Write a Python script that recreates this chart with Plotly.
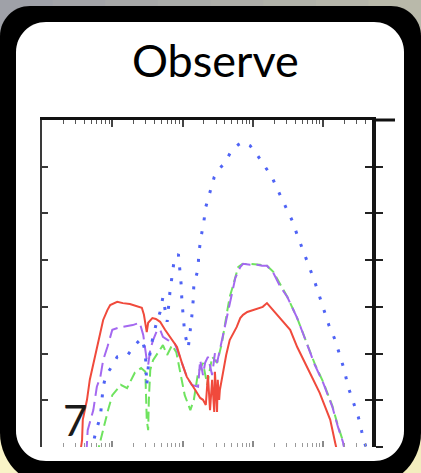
import numpy as np
import plotly.graph_objects as go

# ---------------- data (x in decades of log10, y in axis units 0..7) ----------------
red_x = [0.54, 0.57, 0.58, 0.64, 0.68, 0.74, 0.78, 0.83, 0.87, 0.93, 0.97, 1.07, 1.15, 1.25, 1.35, 1.42,
         1.45, 1.47, 1.49, 1.51, 1.57, 1.62, 1.68, 1.75, 1.82, 1.92, 1.99, 2.06, 2.18, 2.25, 2.29, 2.33,
         2.36, 2.39, 2.42, 2.45, 2.46, 2.49, 2.50, 2.52, 2.53, 2.58, 2.62, 2.67, 2.73, 2.77, 2.82, 2.86,
         2.92, 3.00, 3.07, 3.14, 3.20, 3.29, 3.39, 3.53, 3.63, 3.74, 3.81, 3.95, 4.10, 4.17, 4.21]
red_y = [-0.17, 0.15, 0.58, 1.01, 1.44, 1.86, 2.14, 2.51, 2.72, 2.93, 3.04, 3.11, 3.08, 3.06, 3.02, 2.98,
         2.83, 2.61, 2.46, 2.66, 2.76, 2.74, 2.68, 2.51, 2.36, 2.14, 1.80, 1.50, 1.22, 1.05, 1.01, 0.90,
         1.54, 0.79, 1.44, 0.75, 1.61, 0.75, 1.44, 1.01, 1.22, 1.65, 1.97, 2.29, 2.46, 2.57, 2.76, 2.83,
         2.89, 2.93, 2.98, 3.00, 3.08, 2.93, 2.76, 2.51, 2.14, 1.82, 1.59, 1.16, 0.58, 0.09, -0.17]

purple_x = [0.63, 0.65, 0.73, 0.78, 0.83, 0.87, 0.93, 1.00, 1.08, 1.15, 1.29, 1.39, 1.44, 1.47, 1.49, 1.51,
            1.54, 1.58, 1.64, 1.68, 1.72, 1.79, 1.89, 1.96, 2.06, 2.13, 2.22, 2.25, 2.29, 2.32, 2.36, 2.42,
            2.46, 2.49, 2.56, 2.63, 2.67, 2.72, 2.75, 2.82, 2.86, 2.96, 3.06, 3.13, 3.20, 3.29, 3.39, 3.49,
            3.63, 3.71, 3.88, 4.00, 4.13, 4.21, 4.28, 4.32]
purple_y = [-0.17, 0.36, 0.79, 1.29, 1.50, 1.86, 2.14, 2.51, 2.55, 2.57, 2.61, 2.66, 2.40, 2.08, 1.86, 1.76,
            2.08, 2.29, 2.51, 2.51, 2.36, 2.29, 2.21, 1.93, 1.50, 1.33, 1.29, 1.86, 1.54, 1.80, 1.93, 1.54,
            2.01, 1.80, 2.29, 2.76, 3.00, 3.36, 3.62, 3.85, 3.92, 3.90, 3.90, 3.88, 3.88, 3.73, 3.43, 3.21,
            2.76, 2.44, 1.76, 1.37, 0.86, 0.43, 0.11, -0.17]

green_x = [0.78, 0.83, 0.88, 0.94, 1.00, 1.05, 1.12, 1.21, 1.32, 1.41, 1.47, 1.49, 1.51, 1.52, 1.54, 1.58,
           1.65, 1.72, 1.78, 1.85, 1.91, 1.96, 2.03, 2.11, 2.16, 2.22, 2.29, 2.35, 2.42, 2.49, 2.56, 2.63,
           2.67, 2.72, 2.79, 2.85, 2.96, 3.10, 3.20, 3.29, 3.39, 3.49, 3.63, 3.71, 3.88, 4.00, 4.13, 4.21,
           4.28, 4.32]
green_y = [-0.17, 0.15, 0.47, 0.79, 1.11, 1.20, 1.33, 1.26, 1.59, 1.69, 1.61, 0.58, 0.36, 1.01, 1.65, 1.86,
           2.03, 2.18, 1.97, 2.18, 2.03, 1.61, 1.11, 0.79, 1.01, 1.59, 1.80, 1.33, 1.93, 1.80, 2.23, 2.87,
           3.21, 3.47, 3.85, 3.92, 3.92, 3.90, 3.88, 3.75, 3.47, 3.21, 2.76, 2.44, 1.78, 1.39, 0.88, 0.45,
           0.13, -0.17]

blue_x = [0.70, 0.77, 0.83, 0.85, 0.87, 0.91, 0.97, 1.07, 1.21, 1.32, 1.42, 1.47, 1.49, 1.52, 1.57, 1.62,
          1.68, 1.72, 1.78, 1.82, 1.85, 1.88, 1.94, 1.96, 1.98, 1.99, 2.01, 2.03, 2.08, 2.11, 2.13, 2.15,
          2.16, 2.22, 2.23, 2.26, 2.30, 2.33, 2.39, 2.45, 2.53, 2.60, 2.70, 2.79, 2.86, 2.96, 3.04, 3.16,
          3.27, 3.36, 3.47, 3.56, 3.63, 3.71, 3.80, 3.87, 3.94, 4.01, 4.08, 4.17, 4.23, 4.30, 4.35, 4.42,
          4.50, 4.55, 4.60, 4.62]
blue_y = [-0.11, 0.36, 0.64, 1.01, 1.29, 1.54, 1.67, 1.93, 1.95, 2.18, 2.33, 2.03, 1.33, 1.86, 2.29, 2.61,
          2.89, 3.21, 2.68, 3.32, 3.66, 4.00, 4.13, 3.81, 3.47, 3.13, 2.78, 2.44, 2.12, 2.46, 2.78, 3.13,
          3.47, 3.81, 4.13, 4.48, 4.80, 5.14, 5.46, 5.78, 5.97, 6.08, 6.36, 6.47, 6.53, 6.45, 6.30, 6.02,
          5.78, 5.48, 5.14, 4.84, 4.54, 4.22, 3.90, 3.58, 3.26, 2.93, 2.61, 2.29, 1.97, 1.65, 1.31, 0.99,
          0.64, 0.32, 0.04, -0.17]

x_range = [0, 4.694]
y_range = [0, 7]
y_ticks = [0, 1, 2, 3, 4, 5, 6, 7]
decades = [0, 1, 2, 3, 4]

W, H = 421, 473
def PX(x): return x / W
def PY(y): return 1 - y / H

major = decades
minor = [d + np.log10(k) for d in decades for k in range(2, 10) if d + np.log10(k) < x_range[1]]

fig = go.Figure()
fig.add_trace(go.Scatter(x=green_x, y=green_y, mode="lines",
                         line=dict(color="#6fe35f", width=2, dash="10px,5px"), hoverinfo="skip"))
fig.add_trace(go.Scatter(x=purple_x, y=purple_y, mode="lines",
                         line=dict(color="#a468f0", width=2, dash="14px,6px"), hoverinfo="skip"))
fig.add_trace(go.Scatter(x=blue_x, y=blue_y, mode="lines",
                         line=dict(color="#4f63f5", width=3, dash="3px,11px"), hoverinfo="skip"))
fig.add_trace(go.Scatter(x=red_x, y=red_y, mode="lines",
                         line=dict(color="#f04a3c", width=2), hoverinfo="skip"))
# helper (empty) traces so overlay axes render
fig.add_trace(go.Scatter(x=[None], y=[None], xaxis="x2", yaxis="y2", hoverinfo="skip"))
fig.add_trace(go.Scatter(x=[None], y=[None], xaxis="x", yaxis="y3", hoverinfo="skip"))

xdom = [PX(42), PX(372)]
ydom = [PY(447), PY(120)]

fig.update_layout(
    width=W, height=H, margin=dict(l=0, r=0, t=0, b=0),
    showlegend=False,
    paper_bgcolor="#d8d4bc", plot_bgcolor="rgba(0,0,0,0)",
    xaxis=dict(domain=xdom, range=x_range, showgrid=False, zeroline=False, showline=False,
               showticklabels=False, tickmode="array", tickvals=major, ticks="inside",
               ticklen=6, tickwidth=1.5, tickcolor="#8a8a8a",
               minor=dict(tickmode="array", tickvals=minor, ticks="inside", ticklen=4,
                          tickwidth=1.2, tickcolor="#9a9a9a"),
               anchor="y"),
    xaxis2=dict(domain=xdom, range=x_range, matches="x", overlaying="x", side="top", anchor="y2",
                showgrid=False, zeroline=False, showline=True, linecolor="#111", linewidth=3,
                showticklabels=False, tickmode="array", tickvals=major, ticks="inside",
                ticklen=7, tickwidth=1.5, tickcolor="#444",
                minor=dict(tickmode="array", tickvals=minor, ticks="inside", ticklen=4,
                           tickwidth=1.2, tickcolor="#555")),
    yaxis=dict(domain=ydom, range=y_range, showgrid=False, zeroline=False, showline=True,
               linecolor="#3a3a3a", linewidth=2, showticklabels=False, tickmode="array",
               tickvals=y_ticks, ticks="inside", ticklen=6, tickwidth=1.5, tickcolor="#3a3a3a",
               anchor="x"),
    yaxis2=dict(domain=ydom, range=y_range, matches="y", overlaying="y", side="right", anchor="x2",
                showgrid=False, zeroline=False, showline=True, linecolor="#151515", linewidth=3.5,
                showticklabels=False, tickmode="array", tickvals=y_ticks, ticks="outside",
                ticklen=7, tickwidth=2, tickcolor="#222"),
    yaxis3=dict(domain=ydom, range=y_range, matches="y", overlaying="y", side="right", anchor="x",
                showgrid=False, zeroline=False, showline=False,
                showticklabels=False, tickmode="array", tickvals=y_ticks, ticks="inside",
                ticklen=7, tickwidth=2, tickcolor="#222"),
)

# ---------------- decorative card ----------------
def hexrgb(h):
    h = h.lstrip("#"); return np.array([int(h[i:i + 2], 16) for i in (0, 2, 4)], float)

TL, TR, BL, BR = hexrgb("#9b9da7"), hexrgb("#b9b9aa"), hexrgb("#fdf8c9"), hexrgb("#f5efbf")
shapes = []
nx, ny = 8, 16
for i in range(nx):
    for j in range(ny):
        fx, fy = (i + 0.5) / nx, (j + 0.5) / ny
        c = (TL * (1 - fx) + TR * fx) * (1 - fy) + (BL * (1 - fx) + BR * fx) * fy
        shapes.append(dict(type="rect", xref="paper", yref="paper", layer="below",
                           x0=PX(W * i / nx), x1=PX(W * (i + 1) / nx + 1),
                           y0=PY(H * j / ny), y1=PY(H * (j + 1) / ny + 1),
                           line=dict(width=0), fillcolor="rgb(%d,%d,%d)" % tuple(c)))

def rrect(x0, y0, x1, y1, rt, rb):
    k = 0.4477
    pts = [
        "M%.5f,%.5f" % (PX(x0 + rt), PY(y0)),
        "L%.5f,%.5f" % (PX(x1 - rt), PY(y0)),
        "C%.5f,%.5f %.5f,%.5f %.5f,%.5f" % (PX(x1 - rt * k), PY(y0), PX(x1), PY(y0 + rt * k), PX(x1), PY(y0 + rt)),
        "L%.5f,%.5f" % (PX(x1), PY(y1 - rb)),
        "C%.5f,%.5f %.5f,%.5f %.5f,%.5f" % (PX(x1), PY(y1 - rb * k), PX(x1 - rb * k), PY(y1), PX(x1 - rb), PY(y1)),
        "L%.5f,%.5f" % (PX(x0 + rb), PY(y1)),
        "C%.5f,%.5f %.5f,%.5f %.5f,%.5f" % (PX(x0 + rb * k), PY(y1), PX(x0), PY(y1 - rb * k), PX(x0), PY(y1 - rb)),
        "L%.5f,%.5f" % (PX(x0), PY(y0 + rt)),
        "C%.5f,%.5f %.5f,%.5f %.5f,%.5f" % (PX(x0), PY(y0 + rt * k), PX(x0 + rt * k), PY(y0), PX(x0 + rt), PY(y0)),
        "Z",
    ]
    return " ".join(pts)

shapes.append(dict(type="path", xref="paper", yref="paper", layer="below",
                   path=rrect(0, 6, 421, 486, 30, 53), fillcolor="#000000", line=dict(width=0)))
shapes.append(dict(type="path", xref="paper", yref="paper", layer="below",
                   path=rrect(16, 22, 404, 461, 30, 30), fillcolor="#ffffff", line=dict(width=0)))
# top frame line continuing past the right axis
shapes.append(dict(type="line", xref="paper", yref="paper", layer="above",
                   x0=PX(372), x1=PX(395), y0=PY(120), y1=PY(120),
                   line=dict(color="#111", width=3)))
fig.update_layout(shapes=shapes)

fig.add_annotation(text="Observe", xref="paper", yref="paper", x=PX(215), y=PY(60),
                   xanchor="center", yanchor="middle", showarrow=False,
                   font=dict(family="Lato", size=45, color="#000000"))
fig.add_annotation(text="7", xref="paper", yref="paper", x=PX(75), y=PY(420),
                   xanchor="center", yanchor="middle", showarrow=False,
                   font=dict(family="Lato", size=42, color="#1a1a1a"))

fig.write_html("out.html", config={"displayModeBar": False},
               post_script="document.body.style.margin='0';document.body.style.padding='0';")
